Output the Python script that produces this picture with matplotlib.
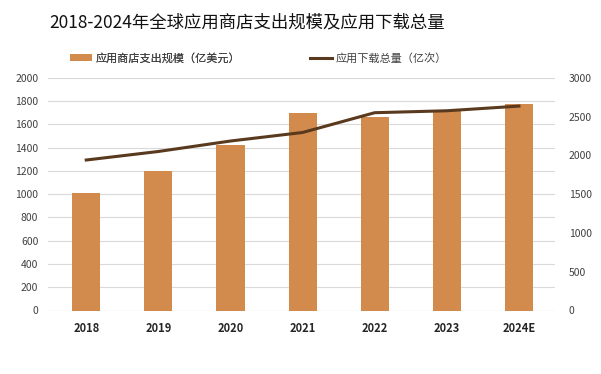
import matplotlib
matplotlib.use("Agg")
import matplotlib.pyplot as plt
from matplotlib.lines import Line2D
from matplotlib.patches import Patch

plt.rcParams['font.family'] = ['Noto Sans CJK SC', 'DejaVu Sans']

years = ["2018", "2019", "2020", "2021", "2022", "2023", "2024E"]
spending = [1010, 1200, 1420, 1700, 1665, 1715, 1775]
downloads = [1940, 2050, 2185, 2295, 2550, 2575, 2635]

title = "2018-2024年全球应用商店支出规模及应用下载总量"
label_bar = "应用商店支出规模（亿美元）"
label_line = "应用下载总量（亿次）"

bar_color = "#D38B4D"
line_color = "#5A3A1E"
grid_color = "#D9D9D9"
text_color = "#404040"

fig = plt.figure(figsize=(6.01, 3.74), dpi=100)
ax = fig.add_axes([48/601, 1-310.5/374, (555-48)/601, (310.5-77.8)/374])
ax2 = ax.twinx()

x = list(range(len(years)))
ax.bar(x, spending, width=0.39, color=bar_color, zorder=3)
ax.set_ylim(0, 2000)
ax.set_yticks(range(0, 2001, 200))
ax.set_xlim(-0.53, 6.5)
ax.set_xticks(x)
ax.set_xticklabels(years, fontsize=8, fontweight='bold', color='#262626')
ax.yaxis.grid(True, color=grid_color, linewidth=0.8, zorder=0)
ax.set_axisbelow(True)

ax2.plot(x, downloads, color=line_color, linewidth=2.2, zorder=4)
ax2.set_ylim(0, 3000)
ax2.set_yticks(range(0, 3001, 500))

for a in (ax, ax2):
    for s in a.spines.values():
        s.set_visible(False)
    a.tick_params(axis='both', length=0, labelsize=7.5, labelcolor=text_color)
ax.tick_params(axis='x', pad=8, labelsize=8, labelcolor='#262626')
ax.tick_params(axis='y', pad=7)
ax2.tick_params(axis='y', pad=10)
ax.axhline(0, color=grid_color, linewidth=0.8, zorder=1)

fig.text(247/601, 1-22/374, title, ha='center', va='center', fontsize=12.5,
         color='#111111', fontweight='medium')

handles = [Patch(facecolor=bar_color, edgecolor='none'),
           Line2D([0], [0], color=line_color, linewidth=2.2)]
leg1 = fig.legend([handles[0]], [label_bar], loc='center left',
                  bbox_to_anchor=(60/601, 1-58/374), frameon=False,
                  fontsize=8, handlelength=2.0, handleheight=0.5, handletextpad=0.3)
leg2 = fig.legend([handles[1]], [label_line], loc='center left',
                  bbox_to_anchor=(300/601, 1-58/374), frameon=False,
                  fontsize=8, handlelength=2.0, handletextpad=0.3)
for leg in (leg1, leg2):
    for t in leg.get_texts():
        t.set_color(text_color)
fig.add_artist(leg1)

fig.savefig("out.png", dpi=100, facecolor='white')
